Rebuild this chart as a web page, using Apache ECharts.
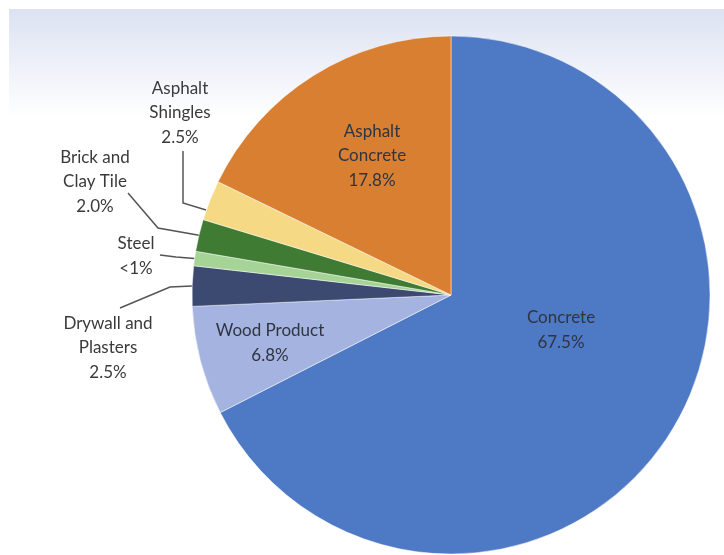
<!DOCTYPE html>
<html>
<head>
<meta charset="utf-8">
<script src="https://cdn.jsdelivr.net/npm/echarts@6/dist/echarts.min.js"></script>
<style>
  html, body { margin: 0; padding: 0; background: #ffffff; }
  #chart { width: 724px; height: 555px; }
</style>
</head>
<body>
<div id="chart"></div>
<script>
// Construction and demolition debris by material (share of total, %)
const categories = ['Concrete', 'Wood Product', 'Drywall and Plasters', 'Steel',
                    'Brick and Clay Tile', 'Asphalt Shingles', 'Asphalt Concrete'];
const labelNames = ['Concrete', 'Wood Product', 'Drywall and\nPlasters', 'Steel',
                    'Brick and\nClay Tile', 'Asphalt\nShingles', 'Asphalt\nConcrete'];
const shares = [67.5, 6.8, 2.5, 0.9, 2.0, 2.5, 17.8];
const shareLabels = ['67.5%', '6.8%', '2.5%', '<1%', '2.0%', '2.5%', '17.8%'];
const colors = ['#4E79C5', '#A5B3E0', '#3C4A72', '#A6D396', '#3F7B33', '#F6D984', '#D97F31'];

// Label placement: centre of each text block, and the leader line's elbow/end
// (a leading "edge" point overrides the default start on the pie rim)
const labelPos = [
  { x: 561, y: 330 },
  { x: 270, y: 343 },
  { x: 108, y: 348, line: [[170, 287], [120, 308]] },
  { x: 136, y: 256, line: [[176, 257], [160, 255]] },
  { x: 95,  y: 182, line: [[158, 228], [128, 193]] },
  { x: 180, y: 113, edge: [206, 210], line: [[183, 203], [183, 151]] },
  { x: 372, y: 156 }
];
const outside = [false, false, true, true, true, true, false];

const chart = echarts.init(document.getElementById('chart'), null, { renderer: 'canvas' });

const data = categories.map((name, i) => ({
  name: name,
  value: shares[i],
  itemStyle: { color: colors[i] },
  label: {
    position: outside[i] ? 'outside' : 'inside',
    formatter: labelNames[i] + '\n' + shareLabels[i],
    color: outside[i] ? '#3a3a3a' : '#2f3540'
  },
  labelLine: { show: outside[i] }
}));

chart.setOption({
  backgroundColor: '#ffffff',
  animation: false,
  graphic: [{
    type: 'rect',
    z: -10,
    shape: { x: 9, y: 9, width: 715, height: 546 },
    style: {
      fill: {
        type: 'linear', x: 0, y: 0, x2: 0, y2: 1,
        colorStops: [
          { offset: 0, color: '#DCE2F2' },
          { offset: 0.2, color: '#FFFFFF' },
          { offset: 1, color: '#FFFFFF' }
        ]
      }
    }
  }],
  series: [{
    type: 'pie',
    center: [451, 295],
    radius: 259,
    startAngle: 90,
    clockwise: true,
    avoidLabelOverlap: false,
    itemStyle: { borderColor: 'rgba(255,255,255,0.6)', borderWidth: 0.8 },
    label: {
      show: true,
      fontFamily: 'Lato, "Open Sans", sans-serif',
      fontSize: 17,
      lineHeight: 24.5,
      align: 'center'
    },
    labelLine: {
      show: true,
      lineStyle: { color: '#555555', width: 1.5 }
    },
    labelLayout: function (params) {
      const i = params.dataIndex;
      const p = labelPos[i];
      const out = { x: p.x, y: p.y, align: 'center', verticalAlign: 'middle' };
      if (p.line) {
        const start = p.edge || (params.labelLinePoints && params.labelLinePoints[0]) || p.line[0];
        out.labelLinePoints = [start, p.line[0], p.line[1]];
      }
      return out;
    },
    emphasis: { disabled: true },
    data: data
  }]
});
</script>
</body>
</html>
